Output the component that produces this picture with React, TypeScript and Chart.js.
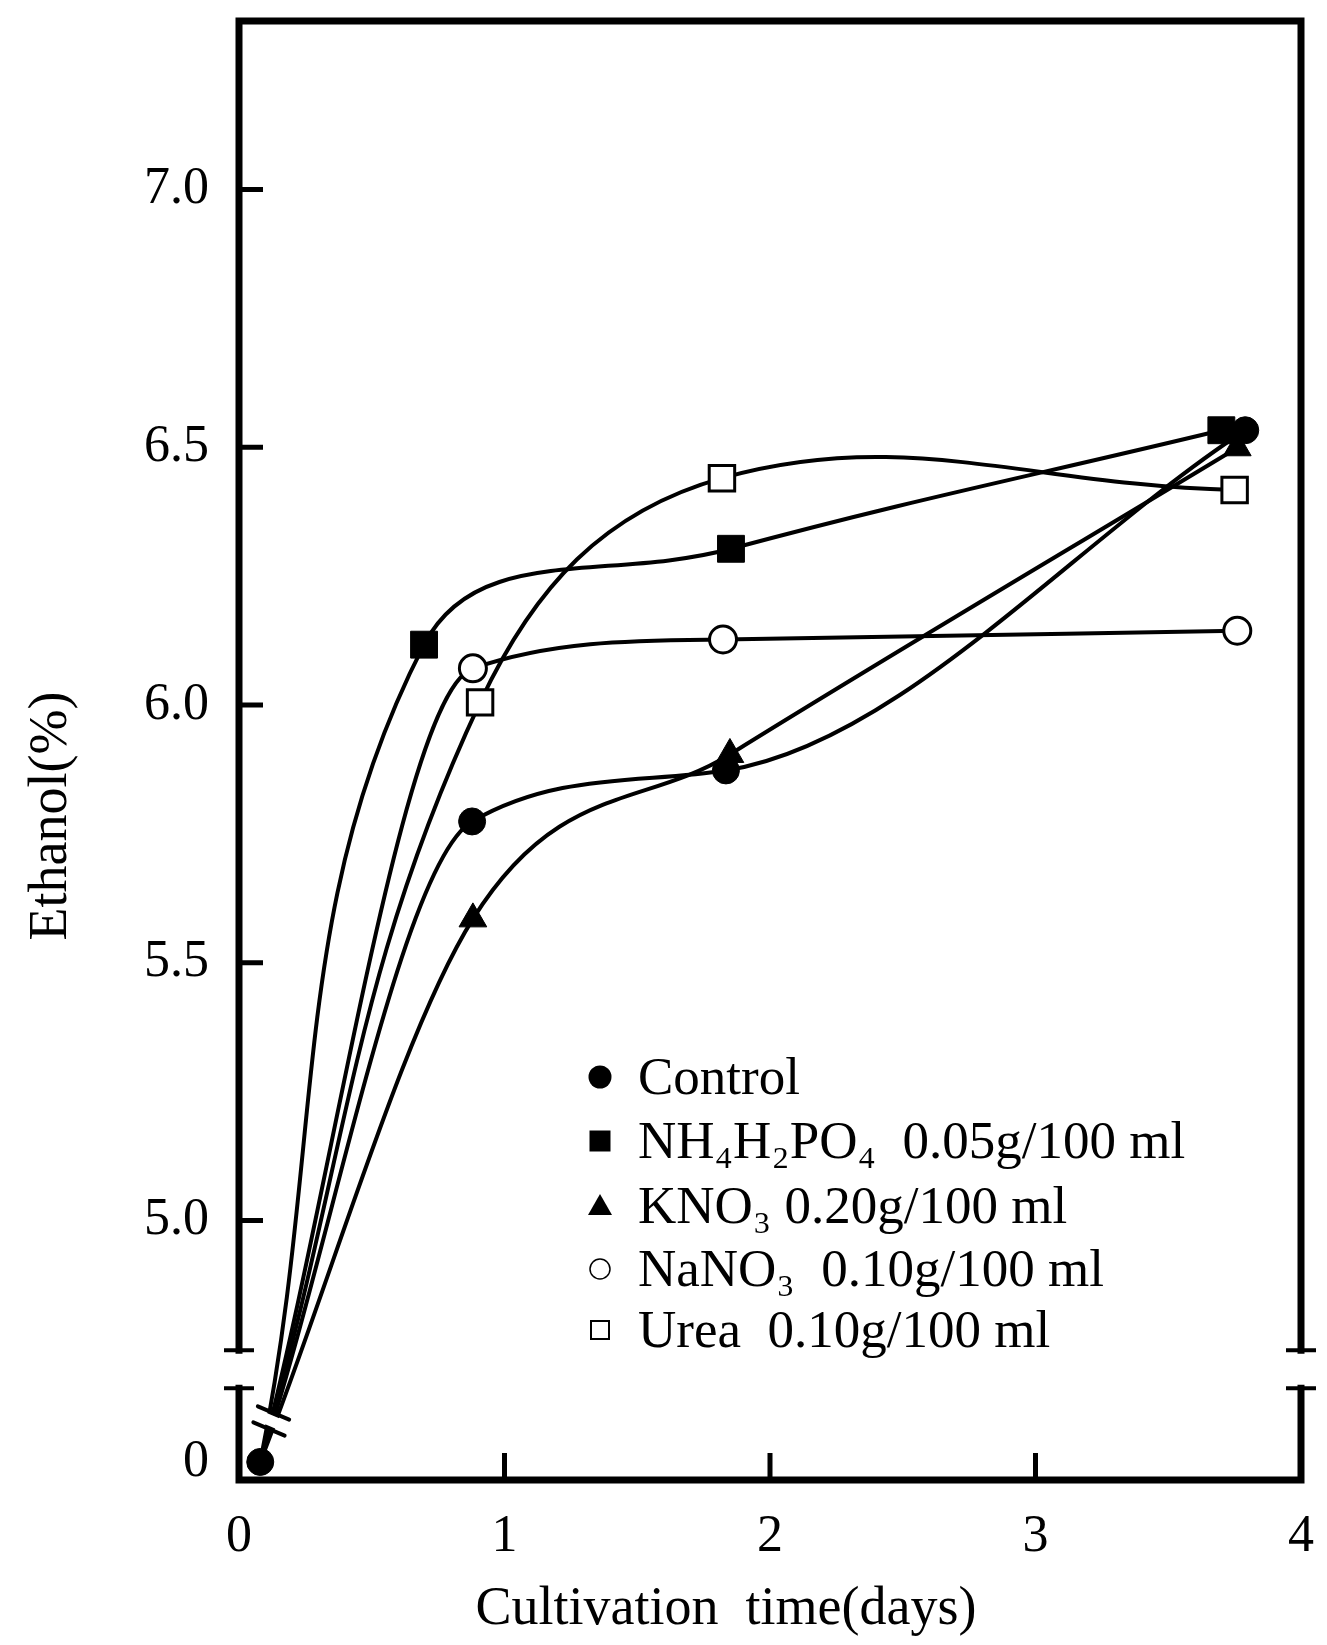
import React, { useEffect, useRef } from 'react';
import { Chart, registerables, LinearScale } from 'chart.js';

// ---------- data ----------
const seriesNames = [
  'Control',
  'NH₄H₂PO₄  0.05g/100 ml',
  'KNO₃ 0.20g/100 ml',
  'NaNO₃  0.10g/100 ml',
  'Urea  0.10g/100 ml',
];
const controlX = [0.08, 0.878, 1.834, 3.79];
const controlY = [0, 5.774, 5.873, 6.533];
const nh4X = [0.08, 0.697, 1.853, 3.7];
const nh4Y = [0, 6.117, 6.303, 6.533];
const kno3X = [0.08, 0.881, 1.849, 3.76];
const kno3Y = [0, 5.585, 5.904, 6.499];
const nano3X = [0.08, 0.881, 1.823, 3.76];
const nano3Y = [0, 6.071, 6.127, 6.144];
const ureaX = [0.08, 0.908, 1.819, 3.75];
const ureaY = [0, 6.005, 6.44, 6.417];
const yTickValues = [0, 5.0, 5.5, 6.0, 6.5, 7.0];
const xTickValues = [0, 1, 2, 3, 4];
const yTickMarks = [5.0, 5.5, 6.0, 6.5, 7.0];
const xTickMarks = [1, 2, 3];

// ---------- broken axis configuration ----------
const BREAK = {
  lowMin: -0.035,
  lowMax: 0.143,
  highMin: 4.748,
  highMax: 7.327,
  lowFrac: 92 / 1462,
  highFrac: 130 / 1462,
};

const FONT = "'Liberation Serif', 'Times New Roman', serif";

class BrokenLinearScale extends LinearScale {
  static id = 'brokenLinear';
  static defaults = LinearScale.defaults;

  buildTicks() {
    return yTickValues.map((v) => ({ value: v }));
  }

  getPixelForValue(value: number) {
    const o = BREAK;
    let dec: number;
    if (value <= o.lowMax) {
      dec = ((value - o.lowMin) / (o.lowMax - o.lowMin)) * o.lowFrac;
    } else if (value >= o.highMin) {
      dec = o.highFrac + ((value - o.highMin) / (o.highMax - o.highMin)) * (1 - o.highFrac);
    } else {
      dec = o.lowFrac + ((value - o.lowMax) / (o.highMin - o.lowMax)) * (o.highFrac - o.lowFrac);
    }
    return (this as any).getPixelForDecimal(dec);
  }

  getValueForPixel(pixel: number) {
    const o = BREAK;
    const dec = (this as any).getDecimalForPixel(pixel);
    if (dec <= o.lowFrac) return o.lowMin + (dec / o.lowFrac) * (o.lowMax - o.lowMin);
    if (dec >= o.highFrac)
      return o.highMin + ((dec - o.highFrac) / (1 - o.highFrac)) * (o.highMax - o.highMin);
    return o.lowMax + ((dec - o.lowFrac) / (o.highFrac - o.lowFrac)) * (o.highMin - o.lowMax);
  }
}

Chart.register(...registerables, BrokenLinearScale as any);

function toPoints(xs: number[], ys: number[]) {
  return xs.map((x, i) => ({ x, y: ys[i] }));
}

type MarkerKind = 'fcircle' | 'fsquare' | 'ftriangle' | 'ocircle' | 'osquare';
const markerKinds: MarkerKind[] = ['fcircle', 'fsquare', 'ftriangle', 'ocircle', 'osquare'];
const curveModes = ['monotone', 'default', 'monotone', 'monotone', 'default'];

function markerProps(kind: MarkerKind) {
  switch (kind) {
    case 'fcircle':
      return { pointStyle: 'circle', radius: 13.5, bg: '#000', bw: 1 };
    case 'fsquare':
      return { pointStyle: 'rect', radius: 19, bg: '#000', bw: 1 };
    case 'ftriangle':
      return { pointStyle: 'triangle', radius: 16, bg: '#000', bw: 1 };
    case 'ocircle':
      return { pointStyle: 'circle', radius: 13.5, bg: '#fff', bw: 3 };
    default:
      return { pointStyle: 'rect', radius: 18, bg: '#fff', bw: 3 };
  }
}

function drawLegendMarker(ctx: CanvasRenderingContext2D, kind: MarkerKind, x: number, y: number) {
  ctx.save();
  ctx.fillStyle = '#000';
  ctx.strokeStyle = '#000';
  ctx.beginPath();
  if (kind === 'fcircle') {
    ctx.arc(x, y, 11.5, 0, Math.PI * 2);
    ctx.fill();
  } else if (kind === 'fsquare') {
    ctx.rect(x - 10.5, y - 10.5, 21, 21);
    ctx.fill();
  } else if (kind === 'ftriangle') {
    ctx.moveTo(x, y - 12);
    ctx.lineTo(x + 12, y + 9);
    ctx.lineTo(x - 12, y + 9);
    ctx.closePath();
    ctx.fill();
  } else if (kind === 'ocircle') {
    ctx.lineWidth = 1.5;
    ctx.arc(x, y, 10, 0, Math.PI * 2);
    ctx.stroke();
  } else {
    ctx.lineWidth = 2;
    ctx.rect(x - 9, y - 9, 18, 18);
    ctx.stroke();
  }
  ctx.restore();
}

const framePlugin = {
  id: 'frameAndDecor',
  afterDatasetsDraw(chart: any) {
    const { ctx, chartArea, scales } = chart;
    const { left, right, top, bottom } = chartArea;
    const ys = scales.y;
    const xs = scales.x;
    const breakTop = ys.getPixelForValue(BREAK.highMin);
    const breakBot = ys.getPixelForValue(BREAK.lowMax);

    ctx.save();
    // break marks on the data lines
    const s1x = xs.getPixelForValue(0.13);
    const s1y = ys.getPixelForValue(0.095);
    const s2x = xs.getPixelForValue(0.113);
    const s2y = ys.getPixelForValue(0.064);
    const ang = (23 * Math.PI) / 180;
    const hl = 17;
    const dx = Math.cos(ang) * hl;
    const dy = Math.sin(ang) * hl;
    ctx.fillStyle = '#fff';
    ctx.beginPath();
    ctx.moveTo(s1x - dx, s1y - dy + 3);
    ctx.lineTo(s1x + dx, s1y + dy + 3);
    ctx.lineTo(s2x + dx, s2y + dy - 3);
    ctx.lineTo(s2x - dx, s2y - dy - 3);
    ctx.closePath();
    ctx.fill();
    ctx.strokeStyle = '#000';
    ctx.lineWidth = 4;
    ctx.lineCap = 'round';
    ctx.beginPath();
    ctx.moveTo(s1x - dx, s1y - dy);
    ctx.lineTo(s1x + dx, s1y + dy);
    ctx.moveTo(s2x - dx, s2y - dy);
    ctx.lineTo(s2x + dx, s2y + dy);
    ctx.stroke();

    // frame
    ctx.lineCap = 'square';
    ctx.lineWidth = 7;
    ctx.beginPath();
    ctx.moveTo(left, top);
    ctx.lineTo(right, top);
    ctx.moveTo(left, top);
    ctx.lineTo(left, breakTop);
    ctx.moveTo(left, breakBot);
    ctx.lineTo(left, bottom);
    ctx.lineTo(right, bottom);
    ctx.moveTo(right, top);
    ctx.lineTo(right, breakTop);
    ctx.moveTo(right, breakBot);
    ctx.lineTo(right, bottom);
    ctx.stroke();

    // break serifs
    ctx.lineWidth = 4;
    ctx.lineCap = 'butt';
    ctx.beginPath();
    [left, right].forEach((xx) => {
      ctx.moveTo(xx - 15, breakTop);
      ctx.lineTo(xx + 15, breakTop);
      ctx.moveTo(xx - 15, breakBot);
      ctx.lineTo(xx + 15, breakBot);
    });
    ctx.stroke();

    // inward ticks
    ctx.lineWidth = 5;
    ctx.beginPath();
    yTickMarks.forEach((v) => {
      const py = ys.getPixelForValue(v);
      ctx.moveTo(left, py);
      ctx.lineTo(left + 24, py);
    });
    xTickMarks.forEach((v) => {
      const px = xs.getPixelForValue(v);
      ctx.moveTo(px, bottom);
      ctx.lineTo(px, bottom - 27);
    });
    ctx.stroke();

    // axis titles
    ctx.fillStyle = '#000';
    ctx.font = `54px ${FONT}`;
    ctx.textAlign = 'center';
    ctx.textBaseline = 'middle';
    ctx.fillText('Cultivation  time(days)', 726, 1610);
    ctx.save();
    ctx.translate(52, 816);
    ctx.rotate(-Math.PI / 2);
    ctx.fillText('Ethanol(%)', 0, 0);
    ctx.restore();

    // legend
    const rows = [1077, 1141, 1206, 1269, 1330];
    ctx.font = `53px ${FONT}`;
    ctx.textAlign = 'left';
    ctx.textBaseline = 'middle';
    seriesNames.forEach((name, i) => {
      drawLegendMarker(ctx, markerKinds[i], 600, rows[i]);
      ctx.fillText(name, 638, rows[i] + 3);
    });
    ctx.restore();
  },
};

export default function App() {
  const canvasRef = useRef<HTMLCanvasElement | null>(null);

  useEffect(() => {
    const canvas = canvasRef.current;
    if (!canvas) return;
    const seriesData = [
      toPoints(controlX, controlY),
      toPoints(nh4X, nh4Y),
      toPoints(kno3X, kno3Y),
      toPoints(nano3X, nano3Y),
      toPoints(ureaX, ureaY),
    ];
    const datasets = seriesData.map((data, i) => {
      const m = markerProps(markerKinds[i]);
      return {
        label: seriesNames[i],
        data,
        borderColor: '#000',
        borderWidth: 4,
        tension: 0.4,
        cubicInterpolationMode: curveModes[i],
        fill: false,
        pointStyle: m.pointStyle,
        pointRadius: (c: any) => (c.dataIndex === 0 && i !== 0 ? 0 : m.radius),
        pointBackgroundColor: m.bg,
        pointBorderColor: '#000',
        pointBorderWidth: m.bw,
        pointHoverRadius: m.radius,
      };
    });

    const chart = new Chart(canvas, {
      type: 'line',
      data: { datasets: datasets as any },
      options: {
        animation: false,
        responsive: false,
        maintainAspectRatio: false,
        layout: { padding: { top: 18, right: 26, left: 0, bottom: 0 } },
        plugins: {
          legend: { display: false },
          tooltip: { enabled: false },
        },
        scales: {
          x: {
            type: 'linear',
            min: 0,
            max: 4,
            afterBuildTicks: (scale: any) => {
              scale.ticks = xTickValues.map((v) => ({ value: v }));
            },
            afterFit: (scale: any) => {
              scale.height = 165;
              scale.paddingLeft = 0;
              scale.paddingRight = 0;
            },
            grid: { display: false, drawTicks: false },
            border: { display: false },
            ticks: {
              autoSkip: false,
              maxRotation: 0,
              padding: 26,
              color: '#000',
              font: { family: FONT, size: 52 },
              callback: (v: any) => String(v),
            },
          },
          y: {
            type: 'brokenLinear' as any,
            min: BREAK.lowMin,
            max: BREAK.highMax,
            afterFit: (scale: any) => {
              scale.width = 239;
              scale.paddingTop = 0;
              scale.paddingBottom = 0;
            },
            grid: { display: false, drawTicks: false },
            border: { display: false },
            ticks: {
              autoSkip: false,
              padding: 30,
              color: '#000',
              font: { family: FONT, size: 52 },
              callback: (v: any) => (Number(v) === 0 ? '0' : Number(v).toFixed(1)),
            },
          },
        },
      } as any,
      plugins: [framePlugin],
    });
    return () => chart.destroy();
  }, []);

  return (
    <div style={{ position: 'fixed', left: 0, top: 0, width: 1327, height: 1645, background: '#fff' }}>
      <canvas ref={canvasRef} width={1327} height={1645} style={{ width: 1327, height: 1645, display: 'block' }} />
    </div>
  );
}
